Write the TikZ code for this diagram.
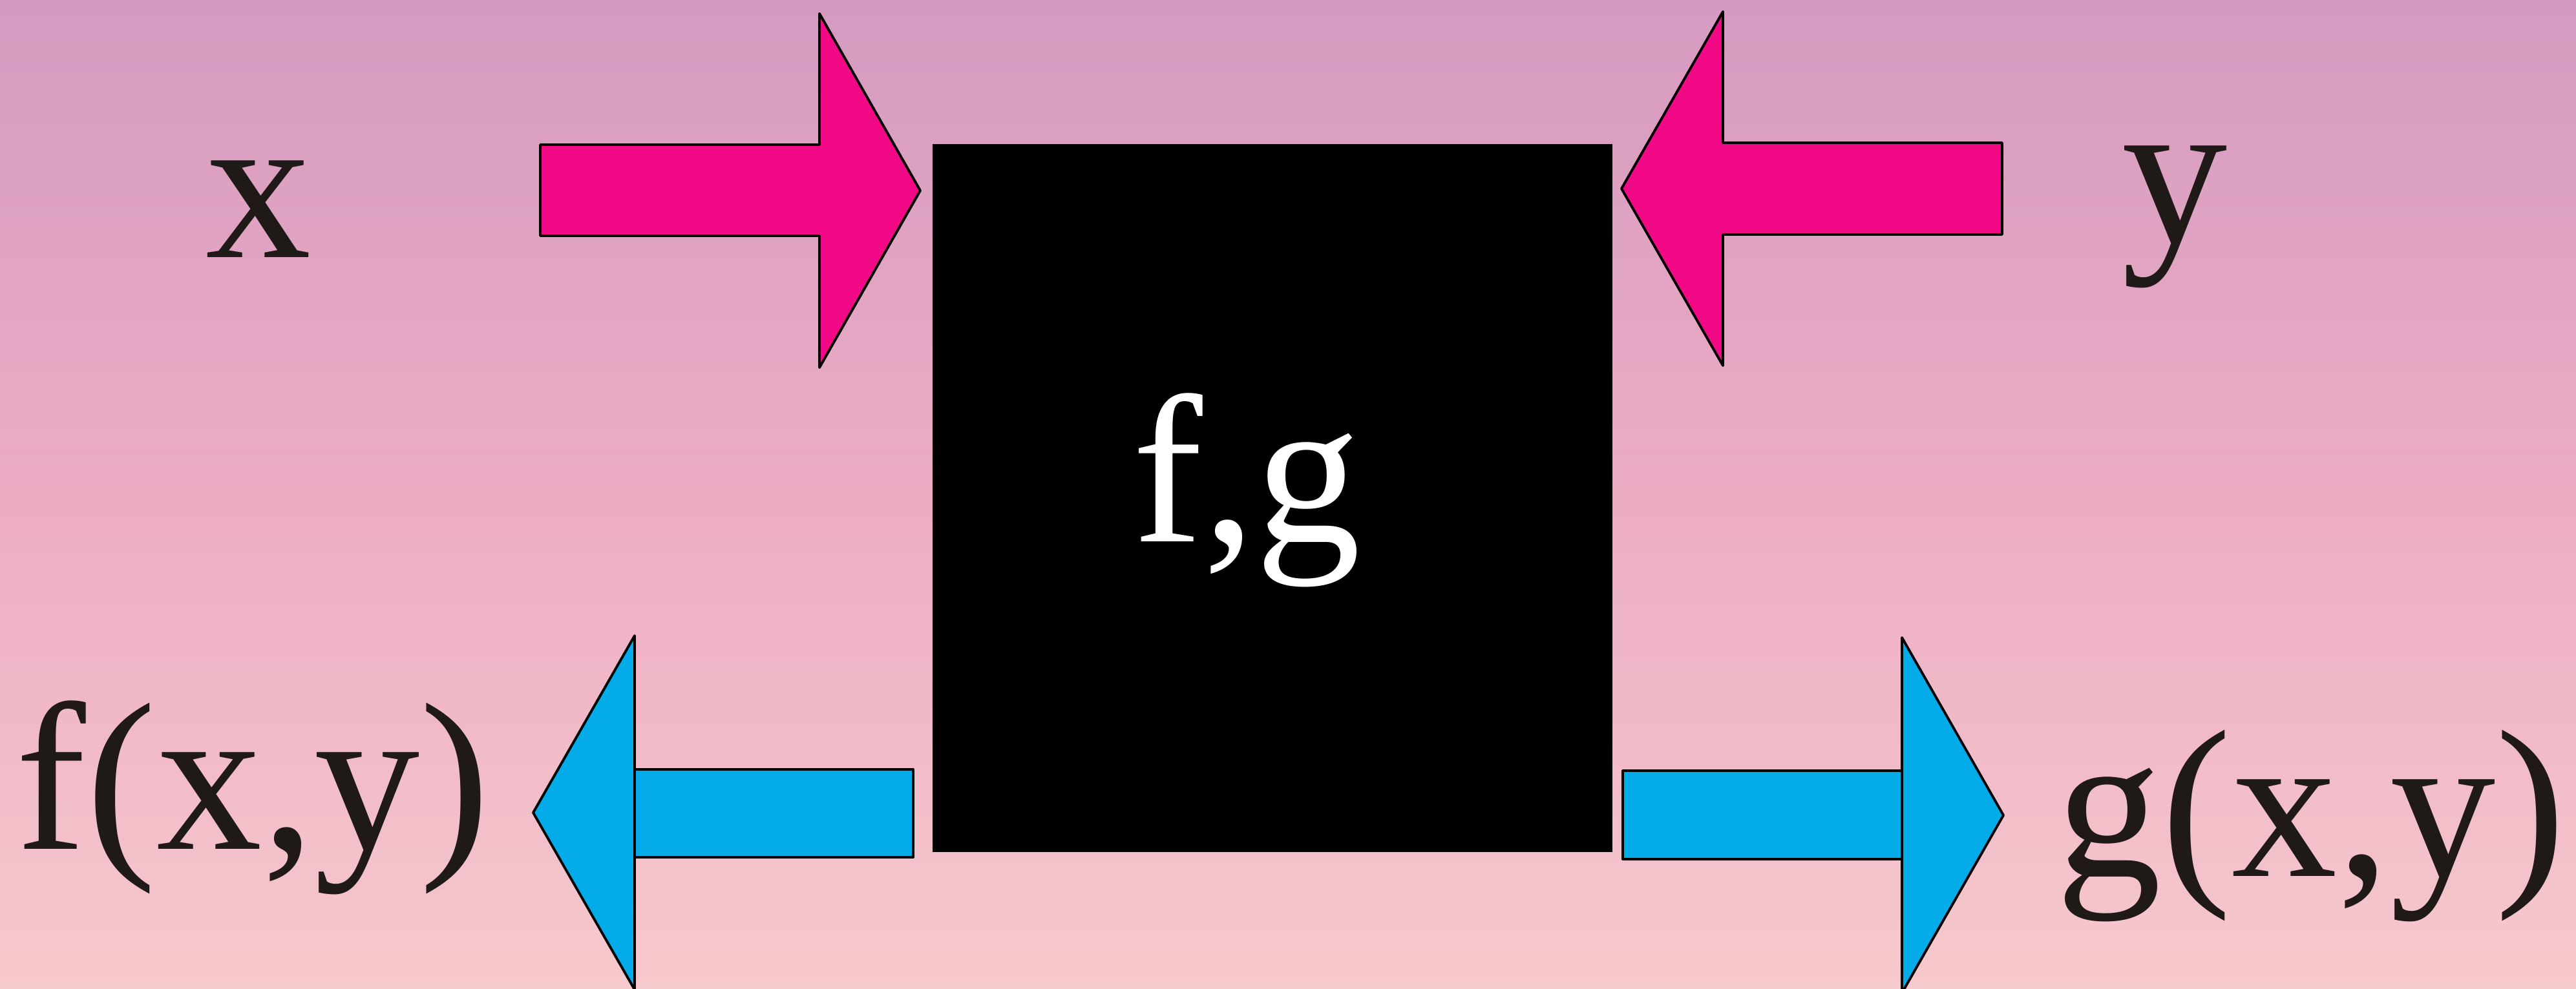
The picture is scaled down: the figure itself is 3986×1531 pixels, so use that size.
\documentclass[tikz,border=0pt]{standalone}
\usepackage{fontspec}
\setmainfont{Liberation Serif}
\definecolor{bgtop}{RGB}{212,154,192}
\definecolor{bgmid}{RGB}{236,172,196}
\definecolor{bgbot}{RGB}{246,201,204}
\definecolor{pinkarrow}{RGB}{242,9,134}
\definecolor{bluearrow}{RGB}{3,172,232}
\definecolor{inkdark}{RGB}{31,26,23}
\tikzset{
  arrowshape/.style={draw=black, line width=1.1pt, line join=round},
  lbl/.style={inner sep=0pt, anchor=base west, text=inkdark, font=\fontsize{92.8}{100}\selectfont},
}
\begin{document}
\begin{tikzpicture}[x=0.01cm, y=-0.01cm]
\useasboundingbox (0,0) rectangle (3986,1531);
\shade[top color=bgtop, bottom color=bgbot, middle color=bgmid] (0,0) rectangle (3986,1531);
\begin{scope}
\clip (0,0) rectangle (3986,1531);
% black box
\node[draw=black, fill=black, line width=0.4pt, minimum width=10.5cm, minimum height=10.94cm, inner sep=0pt, anchor=north west,
      text=white, font=\fontsize{92.8}{100}\selectfont] (box) at (1443,223) {};
\node[inner sep=0pt, anchor=base west, text=white, font=\fontsize{92.8}{100}\selectfont] (fg) at (1752,839) {f,g};
% top-left pink arrow
\draw[arrowshape, fill=pinkarrow] (836,224) -- (1268,224) -- (1268,21) -- (1424,295) -- (1268,569) -- (1268,365) -- (836,365) -- cycle;
% top-right pink arrow
\draw[arrowshape, fill=pinkarrow] (3098,221) -- (2666,221) -- (2666,18) -- (2509,292) -- (2666,566) -- (2666,363) -- (3098,363) -- cycle;
% bottom-left blue arrow
\draw[arrowshape, fill=bluearrow] (982,984) -- (825,1258) -- (982,1532) -- cycle;
\draw[arrowshape, fill=bluearrow] (982,1191) rectangle (1413,1327);
\draw[arrowshape] (982,984) -- (982,1532);
% bottom-right blue arrow
\draw[arrowshape, fill=bluearrow] (2943,987) -- (3100,1262) -- (2943,1537) -- cycle;
\draw[arrowshape, fill=bluearrow] (2511,1193) rectangle (2943,1330);
\draw[arrowshape] (2943,987) -- (2943,1537);
\end{scope}
% labels
\node[lbl] (x) at (318,399) {x};
\node[lbl] (y) at (3283,376) {y};
\node[lbl] (fxy) at (24,1314) {f(x,y)};
\node[lbl] (gxy) at (3181,1356) {g(x,y)};
\end{tikzpicture}
\end{document}
